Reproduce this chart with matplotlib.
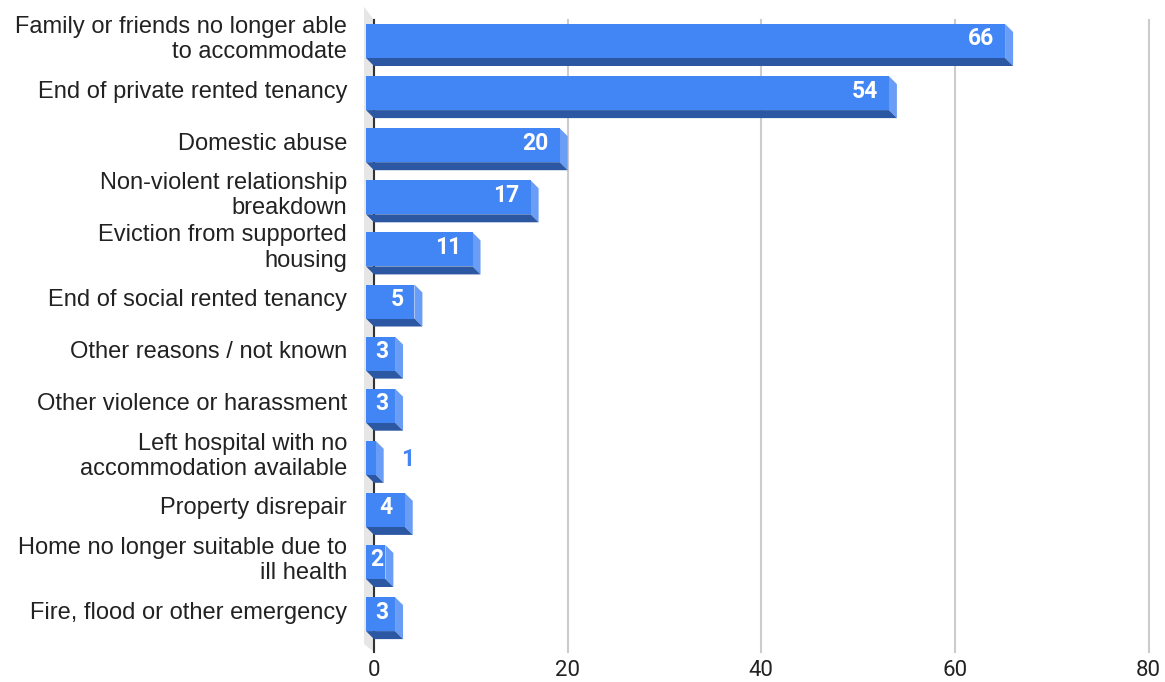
import matplotlib.pyplot as plt
from matplotlib.patches import Polygon

categories = [
    "Family or friends no longer able\nto accommodate",
    "End of private rented tenancy",
    "Domestic abuse",
    "Non-violent relationship\nbreakdown",
    "Eviction from supported\nhousing",
    "End of social rented tenancy",
    "Other reasons / not known",
    "Other violence or harassment",
    "Left hospital with no\naccommodation available",
    "Property disrepair",
    "Home no longer suitable due to\nill health",
    "Fire, flood or other emergency",
]
values = [66, 54, 20, 17, 11, 5, 3, 3, 1, 4, 2, 3]
x_ticks = [0, 20, 40, 60, 80]

FRONT = "#4285f4"
BOTTOM = "#2b57a3"
SIDE = "#6a9ef6"
WALL = "#e6e6e6"

W, H = 1165, 682
fig = plt.figure(figsize=(W / 100, H / 100), dpi=100)

# axes placed in pixels; scale ~9.683 px per unit, zero of back plane at px 374
px_per_x = (955 - 374) / 60
px_per_y = 52.1
ax_l, ax_r, ax_t, ax_b = 356, 1160, 10, 660
ax = fig.add_axes([ax_l / W, 1 - ax_b / H, (ax_r - ax_l) / W, (ax_b - ax_t) / H])
ax.set_xlim((ax_l - 374) / px_per_x, (ax_r - 374) / px_per_x)
ax.set_ylim((ax_b - 41) / px_per_y, (ax_t - 41) / px_per_y)
ax.axis("off")

dx = 8 / px_per_x
dy = 8 / px_per_y
h = 17 / px_per_y
g_top = (20 - 41) / px_per_y
g_bot = (652 - 41) / px_per_y

# side wall on the left
ax.add_patch(Polygon([(-dx - 2 / px_per_x, g_top - dy - 0.1), (0, g_top), (0, g_bot),
                      (-dx - 2 / px_per_x, g_bot - dy)],
                     closed=True, facecolor=WALL, edgecolor="none", zorder=0, clip_on=False))

for t in x_ticks:
    ax.plot([t, t], [g_top, g_bot], color="#cccccc", lw=1.5, zorder=1)
ax.plot([0, 0], [g_top, g_bot], color="#333333", lw=1.5, zorder=1.5)

label_kw = dict(fontsize=16.5, fontweight="bold", family="Roboto", zorder=4)
for i, v in enumerate(values):
    top, bot = i - h, i + h
    front = Polygon([(-dx, top), (v - dx, top), (v - dx, bot), (-dx, bot)],
                    closed=True, facecolor=FRONT, edgecolor="none", zorder=3, clip_on=False)
    bottom = Polygon([(-dx, bot), (v - dx, bot), (v, bot + dy), (0, bot + dy)],
                     closed=True, facecolor=BOTTOM, edgecolor="none", zorder=2, clip_on=False)
    side = Polygon([(v - dx, top), (v, top + dy), (v, bot + dy), (v - dx, bot)],
                   closed=True, facecolor=SIDE, edgecolor="none", zorder=2, clip_on=False)
    for p in (side, bottom, front):
        ax.add_patch(p)

    bar_px = v * px_per_x
    if bar_px > 40:
        ax.text(v - dx - 11 / px_per_x, i - 0.04, str(v), ha="right", va="center",
                color="white", **label_kw)
    elif v >= 2:
        ax.text(v / 2 - dx + 1 / px_per_x, i - 0.04, str(v), ha="center", va="center",
                color="white", **label_kw)
    else:
        ax.text(v + 17 / px_per_x, i + 0.04, str(v), ha="left", va="center",
                color=FRONT, **label_kw)

    ax.text((347 - 374) / px_per_x, i - 0.03, categories[i], ha="right", va="center",
            fontsize=17, family="Liberation Sans", color="#222222",
            linespacing=1.2, clip_on=False)

for t in x_ticks:
    ax.text(t, (670 - 41) / px_per_y, str(t), ha="center", va="center",
            fontsize=16, family="Roboto", color="#222222", clip_on=False)

fig.savefig("out.png", dpi=100)
